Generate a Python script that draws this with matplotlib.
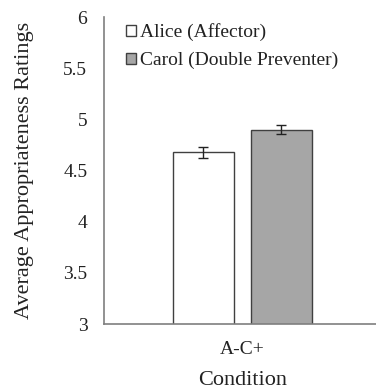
import matplotlib
matplotlib.use("Agg")
import matplotlib.pyplot as plt
import numpy as np

plt.rcParams['font.family'] = ['Liberation Serif', 'DejaVu Serif']

categories = ["A-C+"]
series_names = ["Alice (Affector)", "Carol (Double Preventer)"]
alice_values = [4.68]
carol_values = [4.90]
alice_err = [0.054]
carol_err = [0.046]
yticks = [3, 3.5, 4, 4.5, 5, 5.5, 6]
ytick_labels = ["3", "3.5", "4", "4.5", "5", "5.5", "6"]

fig = plt.figure(figsize=(3.76, 3.90), dpi=100)
ax = fig.add_axes([0.2766, 0.1692, 0.735, 0.7872])

x = np.arange(len(categories))
w = 0.221
off = 0.1408
ax.bar(x - off, alice_values, w, color='white', edgecolor='#404040', linewidth=1.0,
       label=series_names[0], zorder=2)
ax.bar(x + off, carol_values, w, color='#a6a6a6', edgecolor='#404040', linewidth=1.0,
       label=series_names[1], zorder=2)
ax.errorbar(x - off, alice_values, yerr=alice_err, fmt='none', ecolor='#222222',
            elinewidth=1.0, capsize=3.5, capthick=1.0, zorder=3)
ax.errorbar(x + off, carol_values, yerr=carol_err, fmt='none', ecolor='#222222',
            elinewidth=1.0, capsize=3.5, capthick=1.0, zorder=3)

ax.set_xlim(-0.5, 0.5)
ax.set_ylim(3, 6)
ax.set_yticks(yticks)
ax.set_yticklabels(ytick_labels)
ax.set_xticks(x)
ax.set_xticklabels(categories)
ax.tick_params(axis='both', length=0, labelsize=14, colors='#222222')
ax.tick_params(axis='y', pad=12)
ax.tick_params(axis='x', pad=12)

for s in ['top', 'right']:
    ax.spines[s].set_visible(False)
for s in ['left', 'bottom']:
    ax.spines[s].set_color('#7f7f7f')
    ax.spines[s].set_linewidth(1.2)

ax.set_ylabel("Average Appropriateness Ratings", fontsize=16, color='#222222', labelpad=21)
ax.set_xlabel("Condition", fontsize=16, color='#222222', labelpad=9.5)

leg = ax.legend(loc='upper left', bbox_to_anchor=(0.053, 1.005), frameon=False,
                fontsize=14, handlelength=0.5, handleheight=0.5, handletextpad=0.22,
                labelspacing=0.55, borderaxespad=0)
for t in leg.get_texts():
    t.set_color('#222222')

fig.savefig("out.png", dpi=100)
